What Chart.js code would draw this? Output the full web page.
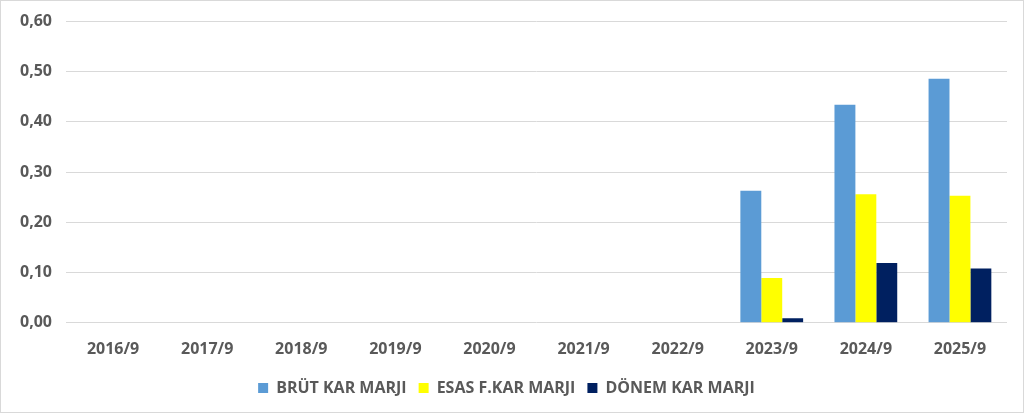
<!DOCTYPE html>
<html>
<head>
<meta charset="utf-8">
<script src="https://cdn.jsdelivr.net/npm/chart.js@4/dist/chart.umd.min.js"></script>
<style>
  html, body { margin: 0; padding: 0; background: #fff; }
  #wrap { position: relative; width: 1022px; height: 411px; border: 1px solid #d9d9d9; }
</style>
</head>
<body>
<div id="wrap"><canvas id="marginChart"></canvas></div>
<script>
// categories (fiscal periods)
const periods = ['2016/9', '2017/9', '2018/9', '2019/9', '2020/9', '2021/9', '2022/9', '2023/9', '2024/9', '2025/9'];
// margin series
const brutKar = [null, null, null, null, null, null, null, 0.263, 0.434, 0.486];
const esasKar = [null, null, null, null, null, null, null, 0.089, 0.256, 0.253];
const donemKar = [null, null, null, null, null, null, null, 0.009, 0.119, 0.108];
const yTicks = [0, 0.1, 0.2, 0.3, 0.4, 0.5, 0.6];

const fontFam = '"Open Sans", "Liberation Sans", sans-serif';
const textCol = '#595959';

const ctx = document.getElementById('marginChart').getContext('2d');
new Chart(ctx, {
  type: 'bar',
  data: {
    labels: periods,
    datasets: [
      { label: 'BRÜT KAR MARJI', data: brutKar, backgroundColor: '#5b9bd5' },
      { label: 'ESAS F.KAR MARJI', data: esasKar, backgroundColor: '#ffff00' },
      { label: 'DÖNEM KAR MARJI', data: donemKar, backgroundColor: '#002060' }
    ]
  },
  options: {
    responsive: true,
    maintainAspectRatio: false,
    animation: false,
    layout: { padding: { top: 0, right: 16, left: 5, bottom: 6 } },
    datasets: {
      bar: { categoryPercentage: 0.667, barPercentage: 1.0 }
    },
    scales: {
      x: {
        grid: { display: false },
        border: { display: false },
        ticks: { color: textCol, font: { family: fontFam, size: 16, weight: 'bold' }, padding: 9 }
      },
      y: {
        min: 0,
        max: 0.6,
        afterBuildTicks: (axis) => { axis.ticks = yTicks.map(v => ({ value: v })); },
        grid: { color: '#d9d9d9', lineWidth: 1, drawTicks: false },
        border: { display: false },
        ticks: {
          color: textCol,
          padding: 14,
          font: { family: fontFam, size: 16, weight: 'bold', lineHeight: 0.8 },
          callback: (v) => v.toFixed(2).replace('.', ',')
        }
      }
    },
    plugins: {
      legend: {
        position: 'bottom',
        labels: {
          color: textCol,
          boxWidth: 10,
          boxHeight: 10,
          padding: 12,
          font: { family: fontFam, size: 16, weight: 'bold' }
        }
      },
      tooltip: { enabled: false }
    }
  }
});
</script>
</body>
</html>
